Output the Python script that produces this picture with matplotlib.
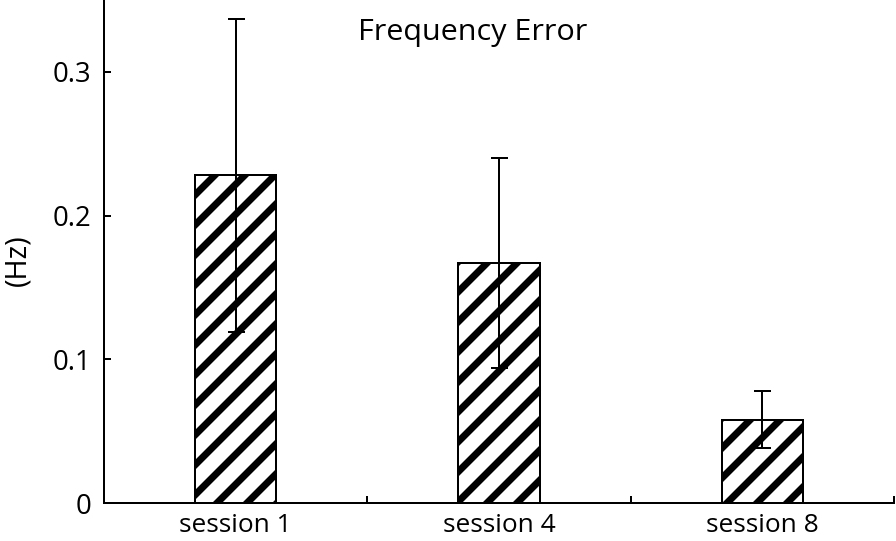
import matplotlib
matplotlib.use("Agg")
import matplotlib.pyplot as plt

categories = ["session 1", "session 4", "session 8"]
means = [0.228, 0.167, 0.058]
errors = [0.109, 0.073, 0.020]
yticks = [0, 0.1, 0.2, 0.3]
ytick_labels = ["0", "0.1", "0.2", "0.3"]
title = "Frequency Error"
ylabel = "(Hz)"

plt.rcParams['font.family'] = ['Open Sans', 'DejaVu Sans']
plt.rcParams['hatch.linewidth'] = 2.8
plt.rcParams['hatch.color'] = 'black'

DPI = 180
fig = plt.figure(figsize=(896 / DPI, 541 / DPI), dpi=DPI)
ax = fig.add_axes([104 / 896, 38 / 541, 790 / 896, 503 / 541])

x = list(range(len(categories)))
ax.bar(x, means, width=0.31, color='white', edgecolor='black', linewidth=0.8,
       hatch='//', zorder=2)
ax.errorbar(x, means, yerr=errors, fmt='none', ecolor='black', elinewidth=0.8,
            capsize=3.4, capthick=0.8, zorder=3)

ax.set_xlim(-0.5, 2.5)
ax.set_ylim(0, 0.35)

ax.spines['top'].set_visible(False)
ax.spines['right'].set_visible(False)
ax.spines['left'].set_linewidth(0.8)
ax.spines['bottom'].set_linewidth(0.8)

ax.set_yticks(yticks)
ax.set_yticklabels(ytick_labels)
ax.tick_params(axis='y', direction='in', length=2.8, width=0.8, labelsize=11, pad=5)

ax.set_xticks(x)
ax.set_xticklabels(categories)
ax.set_xticks([0.5, 1.5, 2.5], minor=True)
ax.tick_params(axis='x', which='major', length=0, labelsize=10.5, pad=4)
ax.tick_params(axis='x', which='minor', direction='in', length=3.0, width=0.8)

ax.text(0.467, 0.936, title, transform=ax.transAxes, ha='center', va='center',
        fontsize=12.2)
fig.text(18 / 896, 1 - 260 / 541, ylabel, rotation=90, ha='center', va='center',
         fontsize=11.5)

fig.savefig("out.png", dpi=DPI)
